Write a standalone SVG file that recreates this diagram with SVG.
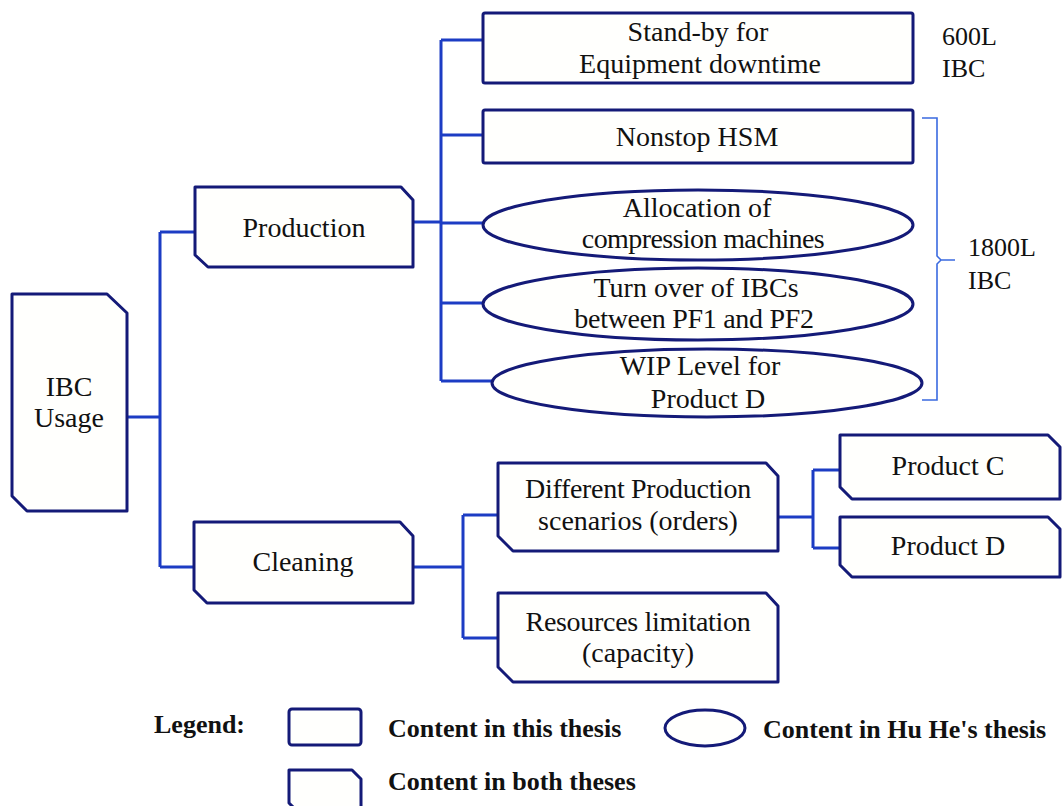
<svg xmlns="http://www.w3.org/2000/svg" width="1063" height="806" viewBox="0 0 1063 806">
  <style>
    .node { fill: #fffffd; stroke: #141a78; stroke-width: 3; stroke-linejoin: round; }
    .link { fill: none; stroke: #1c3cc4; stroke-width: 3; }
    .brace { fill: none; stroke: #3a6ae0; stroke-width: 1.6; }
    .t { font-family: "Liberation Serif", "Times New Roman", serif; font-size: 28px; fill: #111; text-anchor: middle; }
    .side { font-family: "Liberation Serif", "Times New Roman", serif; font-size: 26px; fill: #111; }
    .leg { font-family: "Liberation Serif", "Times New Roman", serif; font-size: 26px; font-weight: bold; fill: #111; }
  </style>

  <rect width="1063" height="806" fill="#ffffff"/>

  <!-- connectors -->
  <g id="connectors">
    <path class="link" d="M127,417 H160 M160,232 V567 M160,232 H195 M160,567 H194"/>
    <path class="link" d="M413,222 H441 M441,40 V381 M441,40 H483 M441,135 H483 M441,223 H483 M441,303 H483 M441,381 H492"/>
    <path class="link" d="M413,567 H463 M463,515 V638 M463,515 H498 M463,638 H498"/>
    <path class="link" d="M778,517 H813 M813,470 V548 M813,470 H840 M813,548 H840"/>
  </g>

  <!-- root -->
  <g id="ibc-usage">
    <path class="node" d="M12,294 H107 L127,313 V511 H27 L12,496 Z"/>
    <text class="t" x="69" y="396">IBC</text>
    <text class="t" x="69" y="427">Usage</text>
  </g>

  <g id="production">
    <path class="node" d="M195,187 H401 L413,200 V267 H208 L195,255 Z"/>
    <text class="t" x="304" y="237">Production</text>
  </g>

  <g id="cleaning">
    <path class="node" d="M194,522 H400 L413,536 V603 H207 L194,590 Z"/>
    <text class="t" x="303" y="571">Cleaning</text>
  </g>

  <g id="standby">
    <rect class="node" x="483" y="13" width="430" height="70" rx="2"/>
    <text class="t" x="698" y="41">Stand-by for</text>
    <text class="t" x="700" y="73">Equipment downtime</text>
  </g>

  <g id="nonstop-hsm">
    <rect class="node" x="483" y="110" width="430" height="53" rx="2"/>
    <text class="t" x="697" y="146">Nonstop HSM</text>
  </g>

  <g id="allocation">
    <ellipse class="node" cx="698" cy="225" rx="215" ry="35"/>
    <text class="t" x="697" y="217">Allocation of</text>
    <text class="t" x="703" y="248" letter-spacing="-0.6">compression machines</text>
  </g>

  <g id="turnover">
    <ellipse class="node" cx="698" cy="304" rx="215" ry="36"/>
    <text class="t" x="696" y="297">Turn over of IBCs</text>
    <text class="t" x="694" y="328" letter-spacing="-0.3">between PF1 and PF2</text>
  </g>

  <g id="wip-level">
    <ellipse class="node" cx="707" cy="383" rx="215" ry="34"/>
    <text class="t" x="700" y="375">WIP Level for</text>
    <text class="t" x="708" y="408">Product D</text>
  </g>

  <g id="scenarios">
    <path class="node" d="M498,463 H766 L778,476 V551 H513 L498,536 Z"/>
    <text class="t" x="638" y="498" letter-spacing="-0.3">Different Production</text>
    <text class="t" x="638" y="530">scenarios (orders)</text>
  </g>

  <g id="resources">
    <path class="node" d="M498,593 H766 L778,606 V682 H513 L498,667 Z"/>
    <text class="t" x="638" y="631" letter-spacing="-0.3">Resources limitation</text>
    <text class="t" x="638" y="662">(capacity)</text>
  </g>

  <g id="product-c">
    <path class="node" d="M840,435 H1048 L1060,447 V499 H852 L840,487 Z"/>
    <text class="t" x="948" y="475">Product C</text>
  </g>

  <g id="product-d">
    <path class="node" d="M840,517 H1048 L1060,529 V577 H852 L840,565 Z"/>
    <text class="t" x="948" y="555">Product D</text>
  </g>

  <!-- capacity annotations -->
  <g id="ibc-600">
    <text class="side" x="942" y="45">600L</text>
    <text class="side" x="942" y="77">IBC</text>
  </g>

  <g id="ibc-1800">
    <path class="brace" d="M922,118 H937 V256 L941,260 H955 M941,260 L937,264 V400 H922"/>
    <text class="side" x="968" y="256">1800L</text>
    <text class="side" x="968" y="289">IBC</text>
  </g>

  <!-- legend -->
  <g id="legend">
    <text class="leg" x="154" y="733">Legend:</text>
    <rect class="node" x="289" y="709" width="72" height="36" rx="3"/>
    <text class="leg" x="388" y="737">Content in this thesis</text>
    <ellipse class="node" cx="705" cy="728" rx="40" ry="18"/>
    <text class="leg" x="763" y="738">Content in Hu He's thesis</text>
    <path class="node" d="M289,770 H352 L361,779 V812 H298 L289,803 Z"/>
    <text class="leg" x="388" y="790">Content in both theses</text>
  </g>
</svg>
